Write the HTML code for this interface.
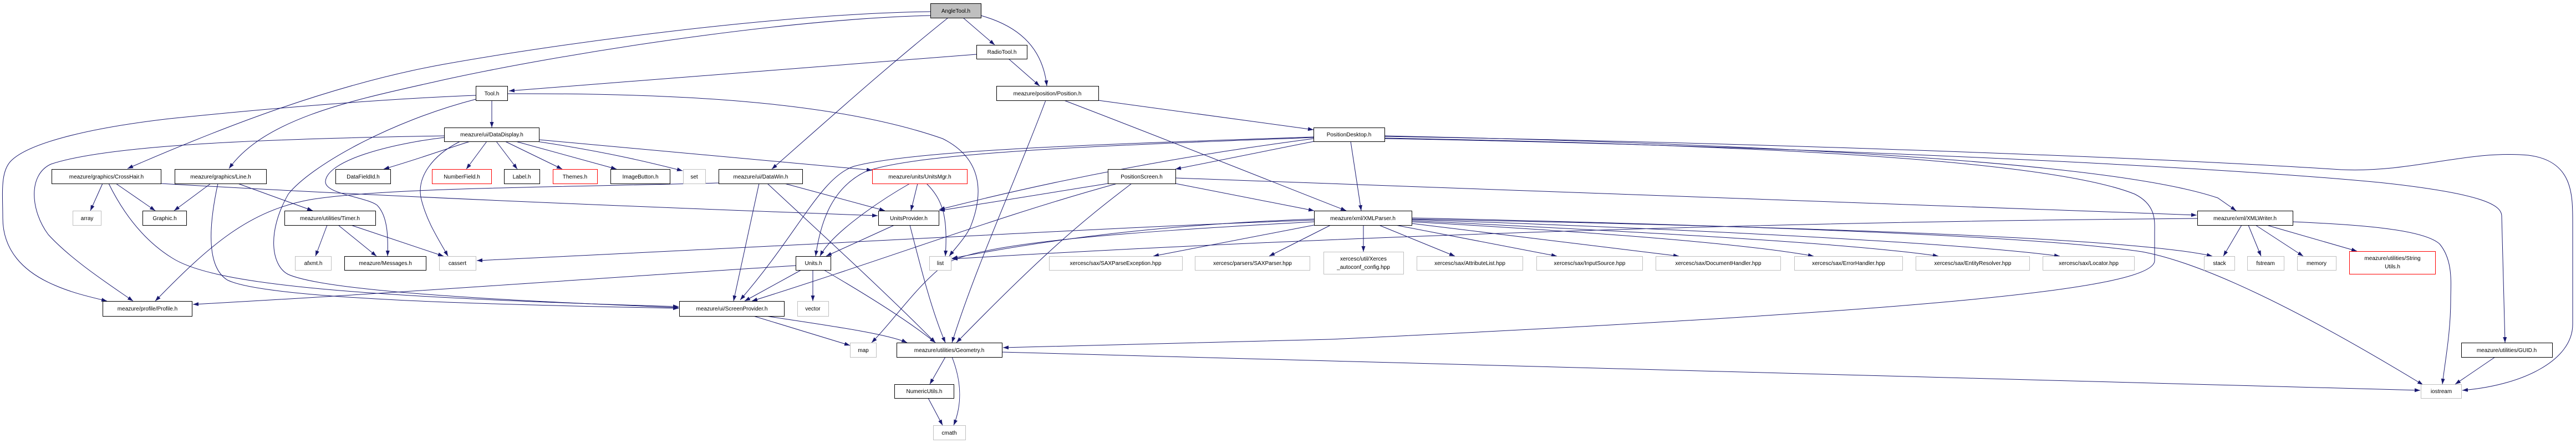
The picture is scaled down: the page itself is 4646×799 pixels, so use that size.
<!DOCTYPE html>
<html><head><meta charset="utf-8"><style>
html,body{margin:0;padding:0;background:#fff;}
svg{display:block}
text{font-family:"Liberation Sans",Arial,sans-serif;font-size:10px;text-anchor:middle;fill:#000}
.e{fill:none;stroke:#191970;stroke-width:1;marker-end:url(#a)}
.n{fill:#fff;stroke:#000;stroke-width:1}
.g{fill:#fff;stroke:#bfbfbf;stroke-width:1}
.r{fill:#fff;stroke:#ff0000;stroke-width:1}
</style></head><body>
<svg width="4646" height="799" viewBox="0 0 4646 799" xmlns="http://www.w3.org/2000/svg">
<defs><marker id="a" markerUnits="userSpaceOnUse" markerWidth="10" markerHeight="8" refX="10" refY="3.5" orient="auto"><path d="M0,0 L10,3.5 L0,7 z" fill="#191970"/></marker></defs>
<g>
<path class="e" d="M1678,21 C1400,25 1000,80 800,116 S400,230 230,304"/>
<path class="e" d="M1678,28 C1400,35 1000,100 800,144 C650,178 480,210 413,304"/>
<path class="e" d="M1761,98 L918,164"/>
<path class="e" d="M1737,32 L1794,81"/>
<path class="e" d="M1769,28 C1830,45 1880,80 1888,155"/>
<path class="e" d="M1710,32 C1600,120 1500,210 1392,305"/>
<path class="e" d="M1819,106 L1875,155"/>
<path class="e" d="M887,181 L887,230"/>
<path class="e" d="M858,172 C700,178 500,194 306,214 C150,232 50,260 20,290 C0,310 5,350 5,393 C5,450 40,490 100,515 C130,528 160,535 193,543"/>
<path class="e" d="M858,179 C700,220 560,300 520,350 C480,420 490,480 520,495 C600,530 1000,545 1224,555"/>
<path class="e" d="M915,169 C1200,168 1500,180 1700,250 C1780,290 1770,360 1750,410 C1740,430 1725,445 1712,462"/>
<path class="e" d="M848,255 C800,270 760,285 692,305"/>
<path class="e" d="M878,255 L841,305"/>
<path class="e" d="M895,255 L933,305"/>
<path class="e" d="M911,255 L1014,305"/>
<path class="e" d="M930,255 L1112,305"/>
<path class="e" d="M968,255 C1100,275 1180,295 1231,308"/>
<path class="e" d="M972,252 L1573,307"/>
<path class="e" d="M801,248 C700,260 590,290 587,327 C585,350 660,355 680,370 C700,390 700,430 699,462"/>
<path class="e" d="M801,245 C500,250 200,260 92,296 C50,315 55,380 87,423 C130,470 200,515 240,543"/>
<path class="e" d="M830,255 C780,280 750,320 760,360 C770,400 790,430 808,462"/>
<path class="e" d="M185,331 L163,380"/>
<path class="e" d="M209,331 L280,380"/>
<path class="e" d="M380,331 L314,380"/>
<path class="e" d="M429,331 L564,380"/>
<path class="e" d="M196,331 C230,400 270,440 310,465 C380,510 600,535 1224,553"/>
<path class="e" d="M393,331 C378,400 370,480 410,505 C480,540 900,550 1224,556"/>
<path class="e" d="M290,331 C700,355 1200,375 1583,389"/>
<path class="e" d="M590,406 L569,462"/>
<path class="e" d="M610,406 L679,462"/>
<path class="e" d="M633,406 L800,462"/>
<path class="e" d="M1435,479 C1100,500 700,530 348,549"/>
<path class="e" d="M1296,330 C1000,338 700,338 560,360 C450,380 380,440 280,543"/>
<path class="e" d="M1369,331 L1323,543"/>
<path class="e" d="M1384,331 C1480,420 1600,530 1687,618"/>
<path class="e" d="M1415,331 L1596,380"/>
<path class="e" d="M2370,397 C2000,410 1700,430 860,470"/>
<path class="e" d="M1655,331 L1643,380"/>
<path class="e" d="M1671,331 C1700,360 1710,390 1705,462"/>
<path class="e" d="M1641,331 C1590,360 1500,420 1479,462"/>
<path class="e" d="M1613,406 L1490,462"/>
<path class="e" d="M1641,406 C1660,480 1680,560 1705,618"/>
<path class="e" d="M1445,487 L1343,543"/>
<path class="e" d="M1466,487 L1466,543"/>
<path class="e" d="M1486,487 C1560,530 1640,580 1687,618"/>
<path class="e" d="M1359,570 L1533,623"/>
<path class="e" d="M1381,570 C1500,588 1600,602 1636,618"/>
<path class="e" d="M2015,331 C1800,390 1620,460 1356,543"/>
<path class="e" d="M2041,331 C1950,400 1880,459 1725,618"/>
<path class="e" d="M2370,400 C2000,420 1750,440 1700,480 C1650,520 1610,580 1572,618"/>
<path class="e" d="M1705,644 L1677,693"/>
<path class="e" d="M1717,644 C1735,690 1735,730 1720,767"/>
<path class="e" d="M1674,718 L1700,767"/>
<path class="e" d="M1807,635 C2400,650 3200,672 4365,704"/>
<path class="e" d="M1886,181 C1830,330 1760,480 1717,618"/>
<path class="e" d="M1981,181 L2369,234"/>
<path class="e" d="M1919,181 C2100,250 2300,330 2428,380"/>
<path class="e" d="M2370,255 L2120,305"/>
<path class="e" d="M2436,255 L2455,380"/>
<path class="e" d="M2369,250 C2250,266 2000,300 1694,378"/>
<path class="e" d="M2369,247 C2000,260 1650,270 1540,300 C1480,320 1440,420 1335,541"/>
<path class="e" d="M2369,248 C2000,262 1650,275 1560,310 C1500,340 1480,400 1471,462"/>
<path class="e" d="M2497,245 C3200,260 3812,293 4000,357 L4033,380"/>
<path class="e" d="M2497,250 C3200,262 4000,300 4300,330 C4480,350 4512,370 4512,390 L4518,618"/>
<path class="e" d="M2497,246 C3200,258 3900,285 4222,306 C4350,312 4450,270 4560,280 C4640,290 4640,350 4640,400 L4640,585 C4640,650 4550,695 4441,704"/>
<path class="e" d="M2497,249 C3200,262 3700,290 3850,350 C3890,370 3886,400 3886,420 L3886,470 C3886,520 3500,560 2400,612 L1809,627"/>
<path class="e" d="M2546,393 C3300,410 3700,430 3863,454 C3950,470 4100,530 4370,694"/>
<path class="e" d="M2546,395 C3300,410 3850,430 3990,462"/>
<path class="e" d="M2120,321 C2400,331 3200,360 3962,388"/>
<path class="e" d="M3963,394 C3200,400 2400,426 1717,467"/>
<path class="e" d="M2370,395 C2100,405 1900,430 1717,466"/>
<path class="e" d="M2370,406 L2080,462"/>
<path class="e" d="M2400,406 L2289,462"/>
<path class="e" d="M2459,406 L2459,454"/>
<path class="e" d="M2487,406 L2624,462"/>
<path class="e" d="M2517,406 L2808,462"/>
<path class="e" d="M2546,403 L3028,462"/>
<path class="e" d="M2546,400 C2900,420 3150,440 3271,462"/>
<path class="e" d="M2546,398 C3000,420 3350,440 3496,462"/>
<path class="e" d="M2546,396 C3100,415 3550,440 3715,462"/>
<path class="e" d="M4043,406 L4010,462"/>
<path class="e" d="M4055,406 L4078,462"/>
<path class="e" d="M4068,406 L4154,462"/>
<path class="e" d="M4088,406 L4251,453"/>
<path class="e" d="M4135,400 C4250,405 4370,413 4400,440 C4425,470 4420,512 4420,540 C4420,600 4410,650 4405,693"/>
<path class="e" d="M4500,644 L4428,693"/>
<path class="e" d="M1998,331 L1694,380"/>
<path class="e" d="M2120,331 L2370,380"/>
</g>
<g>
<rect x="1678.5" y="6.5" width="91" height="26" fill="#bfbfbf" stroke="#000"/><text x="1724" y="23">AngleTool.h</text>
<rect class="n" x="1761.5" y="81.5" width="91" height="25"/><text x="1807" y="97">RadioTool.h</text>
<rect class="n" x="858.5" y="155.5" width="57" height="26"/><text x="887" y="172">Tool.h</text>
<rect class="n" x="1797.5" y="155.5" width="184" height="26"/><text x="1889" y="172">meazure/position/Position.h</text>
<rect class="n" x="801.5" y="230.5" width="171" height="25"/><text x="887" y="246">meazure/ui/DataDisplay.h</text>
<rect class="n" x="2369.5" y="230.5" width="128" height="25"/><text x="2433" y="246">PositionDesktop.h</text>

<rect class="n" x="93.5" y="305.5" width="197" height="26"/><text x="192" y="322">meazure/graphics/CrossHair.h</text>
<rect class="n" x="315.5" y="305.5" width="165" height="26"/><text x="398" y="322">meazure/graphics/Line.h</text>
<rect class="n" x="605.5" y="305.5" width="99" height="26"/><text x="655" y="322">DataFieldId.h</text>
<rect class="r" x="779.5" y="305.5" width="107" height="26"/><text x="833" y="322">NumberField.h</text>
<rect class="n" x="909.5" y="305.5" width="64" height="26"/><text x="941" y="322">Label.h</text>
<rect class="r" x="997.5" y="305.5" width="80" height="26"/><text x="1037" y="322">Themes.h</text>
<rect class="n" x="1101.5" y="305.5" width="107" height="26"/><text x="1155" y="322">ImageButton.h</text>
<rect class="g" x="1232.5" y="305.5" width="40" height="26"/><text x="1252" y="322">set</text>
<rect class="n" x="1296.5" y="305.5" width="151" height="26"/><text x="1372" y="322">meazure/ui/DataWin.h</text>
<rect class="r" x="1573.5" y="305.5" width="171" height="26"/><text x="1659" y="322">meazure/units/UnitsMgr.h</text>
<rect class="n" x="1998.5" y="305.5" width="122" height="26"/><text x="2059" y="322">PositionScreen.h</text>

<rect class="g" x="131.5" y="380.5" width="51" height="26"/><text x="157" y="397">array</text>
<rect class="n" x="257.5" y="380.5" width="79" height="26"/><text x="297" y="397">Graphic.h</text>
<rect class="n" x="513.5" y="380.5" width="164" height="26"/><text x="595" y="397">meazure/utilities/Timer.h</text>
<rect class="n" x="1584.5" y="380.5" width="109" height="26"/><text x="1639" y="397">UnitsProvider.h</text>
<rect class="n" x="2370.5" y="380.5" width="176" height="26"/><text x="2458" y="397">meazure/xml/XMLParser.h</text>
<rect class="n" x="3963.5" y="380.5" width="172" height="26"/><text x="4049" y="397">meazure/xml/XMLWriter.h</text>

<rect class="g" x="532.5" y="462.5" width="65" height="25"/><text x="565" y="478">afxmt.h</text>
<rect class="n" x="621.5" y="462.5" width="147" height="25"/><text x="695" y="478">meazure/Messages.h</text>
<rect class="g" x="792.5" y="462.5" width="66" height="25"/><text x="825" y="478">cassert</text>
<rect class="n" x="1435.5" y="462.5" width="63" height="25"/><text x="1467" y="478">Units.h</text>
<rect class="g" x="1676.5" y="462.5" width="39" height="25"/><text x="1696" y="478">list</text>
<rect class="g" x="1892.5" y="462.5" width="240" height="25"/><text x="2012" y="478">xercesc/sax/SAXParseException.hpp</text>
<rect class="g" x="2155.5" y="462.5" width="207" height="25"/><text x="2259" y="478">xercesc/parsers/SAXParser.hpp</text>
<rect class="g" x="2387.5" y="454.5" width="144" height="40"/><text x="2459" y="470">xercesc/util/Xerces</text><text x="2459" y="485">_autoconf_config.hpp</text>
<rect class="g" x="2555.5" y="462.5" width="191" height="25"/><text x="2651" y="478">xercesc/sax/AttributeList.hpp</text>
<rect class="g" x="2771.5" y="462.5" width="191" height="25"/><text x="2867" y="478">xercesc/sax/InputSource.hpp</text>
<rect class="g" x="2986.5" y="462.5" width="225" height="25"/><text x="3099" y="478">xercesc/sax/DocumentHandler.hpp</text>
<rect class="g" x="3236.5" y="462.5" width="195" height="25"/><text x="3334" y="478">xercesc/sax/ErrorHandler.hpp</text>
<rect class="g" x="3455.5" y="462.5" width="205" height="25"/><text x="3558" y="478">xercesc/sax/EntityResolver.hpp</text>
<rect class="g" x="3684.5" y="462.5" width="165" height="25"/><text x="3767" y="478">xercesc/sax/Locator.hpp</text>
<rect class="g" x="3975.5" y="462.5" width="55" height="25"/><text x="4003" y="478">stack</text>
<rect class="g" x="4053.5" y="462.5" width="66" height="25"/><text x="4086" y="478">fstream</text>
<rect class="g" x="4143.5" y="462.5" width="70" height="25"/><text x="4178" y="478">memory</text>
<rect class="r" x="4237.5" y="453.5" width="155" height="41"/><text x="4315" y="469">meazure/utilities/String</text><text x="4315" y="484">Utils.h</text>

<rect class="n" x="185.5" y="543.5" width="161" height="27"/><text x="266" y="560">meazure/profile/Profile.h</text>
<rect class="n" x="1225.5" y="543.5" width="189" height="27"/><text x="1320" y="560">meazure/ui/ScreenProvider.h</text>
<rect class="g" x="1438.5" y="543.5" width="56" height="27"/><text x="1466" y="560">vector</text>

<rect class="g" x="1533.5" y="618.5" width="47" height="26"/><text x="1557" y="635">map</text>
<rect class="n" x="1617.5" y="618.5" width="190" height="26"/><text x="1712" y="635">meazure/utilities/Geometry.h</text>
<rect class="n" x="4439.5" y="618.5" width="164" height="26"/><text x="4521" y="635">meazure/utilities/GUID.h</text>

<rect class="n" x="1613.5" y="693.5" width="107" height="25"/><text x="1667" y="709">NumericUtils.h</text>
<rect class="g" x="4366.5" y="693.5" width="73" height="25"/><text x="4403" y="709">iostream</text>

<rect class="g" x="1683.5" y="767.5" width="58" height="26"/><text x="1712" y="784">cmath</text>
</g>
</svg>
</body></html>
